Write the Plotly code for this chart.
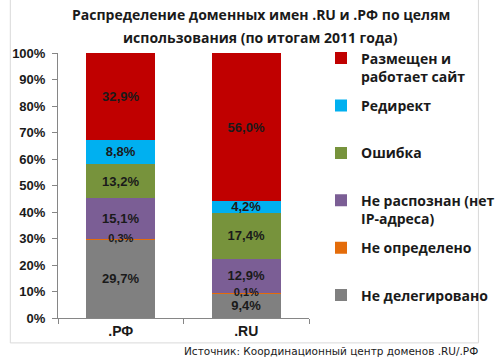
import plotly.graph_objects as go

categories = [".РФ", ".RU"]
series_names = [
    "Не делегировано",
    "Не определено",
    "Не распознан (нет<br>IP-адреса)",
    "Ошибка",
    "Редирект",
    "Размещен и<br>работает сайт",
]
series_values = [
    [29.7, 9.4],
    [0.3, 0.1],
    [15.1, 12.9],
    [13.2, 17.4],
    [8.8, 4.2],
    [32.9, 56.0],
]
series_colors = ["#808080", "#E46C0A", "#7B5E95", "#77933C", "#00B0F0", "#C00000"]
small_series = [False, True, False, False, False, False]
y_ticks = [0, 10, 20, 30, 40, 50, 60, 70, 80, 90, 100]
y_tick_labels = [f"{v}%" for v in y_ticks]
title_lines = [
    "Распределение доменных имен .RU и .РФ по целям",
    "использования (по итогам 2011 года)",
]
source_text = "Источник: Координационный центр доменов .RU/.РФ"


def fmt(v):
    return f"{v:.1f}%".replace(".", ",")


fig = go.Figure()
n = len(series_names)
label_font = dict(family="Arial", size=13, color="#1a1a1a", weight="bold")
base = [0.0] * len(categories)
overlay = []
for i, (name, vals, col, small) in enumerate(zip(series_names, series_values, series_colors, small_series)):
    legend_name = name if "<br>" in name else name + "<br> "
    fig.add_trace(go.Bar(
        x=categories, y=vals, name=legend_name, legendgroup=f"g{i}",
        legendrank=n - i,
        marker=dict(color=col, line=dict(width=0)),
        text=None if small else [fmt(v) for v in vals],
        textposition="inside", insidetextanchor="middle", constraintext="none",
        textangle=0,
        textfont=label_font,
        width=0.55,
    ))
    if small:
        overlay.append(([b + v / 2 for b, v in zip(base, vals)], [fmt(v) for v in vals]))
    base = [b + v for b, v in zip(base, vals)]

for ys, txt in overlay:
    fig.add_trace(go.Scatter(
        x=categories, y=ys, mode="text", text=txt, textposition="middle center",
        textfont=dict(family="Arial", size=11, color="#1a1a1a", weight="bold"),
        showlegend=False, hoverinfo="skip",
    ))

fig.update_layout(
    barmode="stack",
    width=500, height=360,
    margin=dict(l=52, r=182, t=53, b=42),
    paper_bgcolor="white", plot_bgcolor="white",
    showlegend=True,
    legend=dict(
        xref="container", yref="container",
        x=0.642, xanchor="left", y=0.882, yanchor="top",
        traceorder="grouped", tracegroupgap=8, valign="top",
        maxheight=330,
        font=dict(family="Open Sans", size=14, color="#1a1a1a", weight="bold"),
        bgcolor="rgba(0,0,0,0)",
    ),
    xaxis=dict(
        showline=True, linecolor="#868686", linewidth=1,
        ticks="outside", tickson="boundaries", ticklen=5, tickcolor="#868686",
        tickfont=dict(family="Arial", size=14, color="#1a1a1a", weight="bold"),
        showgrid=False,
    ),
    yaxis=dict(
        range=[0, 100], tickvals=y_ticks, ticktext=y_tick_labels,
        showline=True, linecolor="#868686", linewidth=1,
        ticks="outside", ticklen=5, tickcolor="#868686",
        ticklabelstandoff=4,
        tickfont=dict(family="Arial", size=13, color="#1a1a1a", weight="bold"),
        showgrid=False, zeroline=False,
    ),
    annotations=[
        dict(
            text=title_lines[0],
            xref="paper", yref="paper", x=0.808, y=1.147,
            xanchor="center", yanchor="middle", showarrow=False,
            font=dict(family="Open Sans", size=14, color="#1a1a1a", weight="bold"),
        ),
        dict(
            text=title_lines[1],
            xref="paper", yref="paper", x=0.808, y=1.060,
            xanchor="center", yanchor="middle", showarrow=False,
            font=dict(family="Open Sans", size=14, color="#1a1a1a", weight="bold"),
        ),
        dict(
            text=source_text,
            xref="paper", yref="paper", x=1.68, y=-0.095,
            xanchor="right", yanchor="top", showarrow=False,
            font=dict(family="DejaVu Sans", size=10.5, color="#1a1a1a"),
        ),
    ],
    shapes=[dict(
        type="rect", xref="paper", yref="paper",
        x0=-0.19, x1=1.675, y0=-0.094, y1=1.21,
        line=dict(color="#D9D9D9", width=1), layer="below",
    )],
)

fig.write_html(
    "out.html",
    config={"displayModeBar": False},
    post_script="document.body.style.margin='0';document.body.style.padding='0';",
)
